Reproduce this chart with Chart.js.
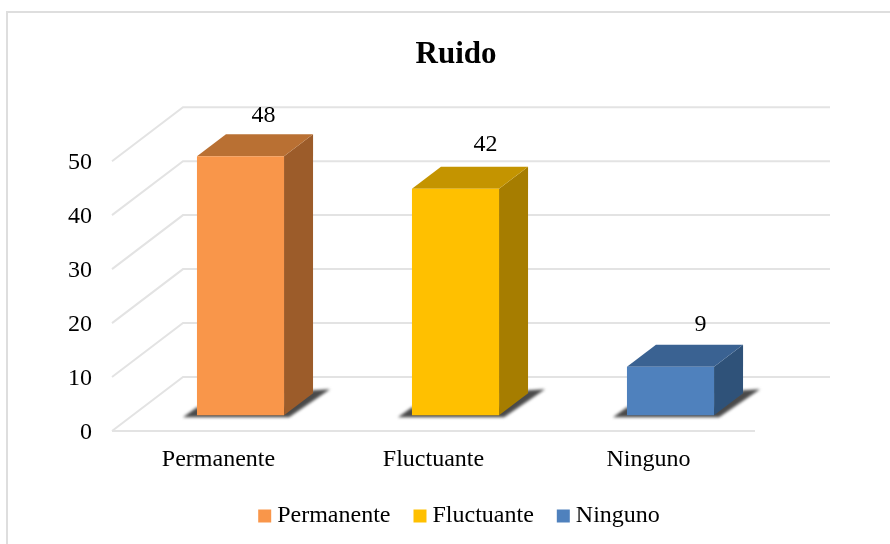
<!DOCTYPE html>
<html><head><meta charset="utf-8">
<style>html,body{margin:0;padding:0;background:#fff}#w{width:890px;height:544px;position:relative}</style>
<script src="https://cdn.jsdelivr.net/npm/chart.js@4"></script>
</head><body><div id="w"><canvas id="c"></canvas></div>
<script>
const categories = ['Permanente','Fluctuante','Ninguno'];
const values = [48,42,9];
const yTicks = [0,10,20,30,40,50];
const frontColors = ['#F9964A','#FFC000','#4F81BD'];
const sideColors  = ['#9C5C2A','#A67D00','#2F5279'];
const topColors   = ['#B97033','#C49400','#3A6292'];
const labelNudge = [[-7,3.5],[0,-0.5],[0,2]];

const FONT = '"Liberation Serif","Times New Roman",serif';
const WALL = {dx:71, dy:-54, right:830};
const DEPTH = {dx:29, dy:-22};

const scene = {
  id:'scene',
  afterLayout(chart){
    chart.legend.left += 6; chart.legend.right += 6;
  },
  beforeDatasetsDraw(chart){
    const c = chart.ctx, y = chart.scales.y, x = chart.scales.x;
    const left = x.left - 21;
    c.save();
    // frame
    c.strokeStyle='#DEDEDE'; c.lineWidth=2;
    c.beginPath(); c.moveTo(7,544); c.lineTo(7,12); c.lineTo(890,12); c.stroke();
    // walls
    c.strokeStyle='#E3E3E3'; c.lineWidth=2;
    yTicks.forEach(t=>{
      const p=y.getPixelForValue(t);
      c.beginPath(); c.moveTo(left,p); c.lineTo(left+WALL.dx,p+WALL.dy); c.lineTo(WALL.right,p+WALL.dy); c.stroke();
    });
    const p0=y.getPixelForValue(0);
    c.beginPath(); c.moveTo(left,p0); c.lineTo(x.right-23,p0); c.stroke();
    // 3D faces
    const meta=chart.getDatasetMeta(0);
    meta.data.forEach((b,i)=>{
      const l=b.x-b.width/2, r=b.x+b.width/2, t=b.y, o=b.base;
      // floor shadow
      c.save(); c.filter='blur(1.8px)'; c.fillStyle='#4a4a4a';
      c.beginPath();
      c.moveTo(l-14,o+2); c.lineTo(l,o-8); c.lineTo(r,o-8);
      c.lineTo(r+DEPTH.dx,o+DEPTH.dy-3); c.lineTo(r+DEPTH.dx+17,o+DEPTH.dy-4);
      c.lineTo(r+5,o+2); c.closePath(); c.fill(); c.restore();
      // side
      c.fillStyle=sideColors[i];
      c.beginPath(); c.moveTo(r,t); c.lineTo(r+DEPTH.dx,t+DEPTH.dy); c.lineTo(r+DEPTH.dx,o+DEPTH.dy); c.lineTo(r,o); c.closePath(); c.fill();
      // top
      c.fillStyle=topColors[i];
      c.beginPath(); c.moveTo(l,t); c.lineTo(l+DEPTH.dx,t+DEPTH.dy); c.lineTo(r+DEPTH.dx,t+DEPTH.dy); c.lineTo(r,t); c.closePath(); c.fill();
    });
    c.restore();
  },
  afterDatasetsDraw(chart){
    const c=chart.ctx;
    c.save(); c.fillStyle='#000'; c.font='24px '+FONT; c.textAlign='center'; c.textBaseline='middle';
    chart.getDatasetMeta(0).data.forEach((b,i)=>{
      c.fillText(String(values[i]), b.x+30+labelNudge[i][0], b.y-44+labelNudge[i][1]);
    });
    c.restore();
  }
};

new Chart(document.getElementById('c'),{
  type:'bar',
  data:{labels:categories,datasets:[{
    label:'Ruido',data:values,yAxisID:'yBars',
    backgroundColor:frontColors,borderWidth:0,
    categoryPercentage:1,barPercentage:0.405,clip:false
  }]},
  plugins:[scene],
  options:{
    responsive:true,maintainAspectRatio:false,animation:false,
    layout:{padding:{left:22,right:0,top:0,bottom:6}},
    plugins:{
      tooltip:{enabled:false},
      title:{display:true,text:'Ruido',color:'#000',
        font:{family:FONT,size:31,weight:'bold'},padding:{top:36,bottom:88}},
      legend:{position:'bottom',
        labels:{color:'#000',font:{family:FONT,size:24},usePointStyle:true,pointStyle:'rect',
          boxWidth:1,boxHeight:13,padding:29,
          generateLabels(){return categories.map((t,i)=>({text:t,fillStyle:frontColors[i],strokeStyle:frontColors[i],lineWidth:0,pointStyle:'rect',index:i,fontColor:'#000'}));}}}
    },
    scales:{
      x:{type:'category',grid:{display:false,drawTicks:false},border:{display:false},
        afterFit(s){s.height=44;},
        ticks:{color:'#000',font:{family:FONT,size:24},padding:14,labelOffset:-22,maxRotation:0}},
      y:{type:'linear',min:0,max:50,position:'left',grid:{display:false,drawTicks:false},border:{display:false},
        afterFit(s){s.width=111;},
        ticks:{color:'#000',font:{family:FONT,size:24},stepSize:10,padding:41,labelOffset:2}},
      yBars:{type:'linear',min:-2.9,max:47.1,position:'right',grid:{display:false,drawTicks:false},border:{display:false},
        afterFit(s){s.width=112;},
        ticks:{display:false}}
    }
  }
});
</script></body></html>
